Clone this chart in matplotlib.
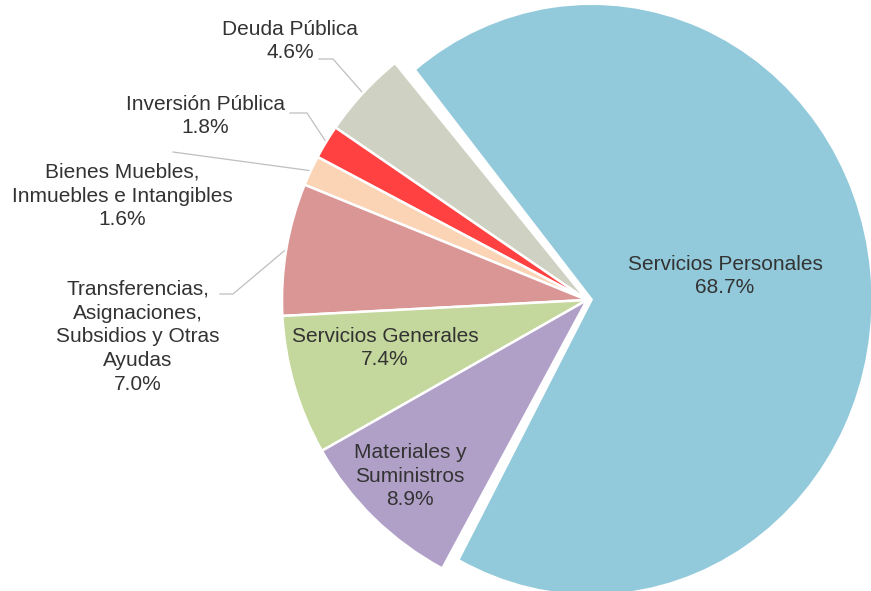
import matplotlib
matplotlib.use("Agg")
import matplotlib.pyplot as plt
from matplotlib.transforms import Affine2D
import numpy as np

# budget shares by chapter (%)
labels = ["Servicios Personales", "Deuda Pública", "Inversión Pública",
          "Bienes Muebles,\nInmuebles e Intangibles",
          "Transferencias,\nAsignaciones,\nSubsidios y Otras\nAyudas",
          "Servicios Generales", "Materiales y\nSuministros"]
shares = [68.7, 4.6, 1.8, 1.6, 7.0, 7.4, 8.9]
colors = ["#92CADB", "#CFD1C2", "#FF4141", "#FBD4B6", "#D99694", "#C4D79C", "#B0A0C8"]

# layout, in pixels of the 871x591 picture
W, H = 871, 591
CX, CY, S = 587, 300, 305          # pie centre and pixels per unit radius
label_px = [(725, 276), (290, 41), (205, 116), (122, 196), (138, 337), (385, 348), (410, 476)]
leader_px = [None, [(319, 59), (333, 59)], [(290, 113), (307, 113)], [(173, 152)],
             [(220, 294), (233, 294)], None, None]


def to_data(p):
    return ((p[0] - CX) / S, (CY - p[1]) / S)


fig = plt.figure(figsize=(W / 100, H / 100), dpi=100)
ax = fig.add_axes([0, 0, 1, 1])

start = 129 + sum(shares[1:]) * 3.6
wedges, _ = ax.pie(shares, colors=colors, startangle=start - 360, counterclock=True,
                   explode=[0.015, 0, 0, 0, 0, 0, 0],
                   wedgeprops=dict(edgecolor="white", linewidth=1.8))

# the big slice is drawn a bit narrower than tall in the original
big = wedges[0]
big.set_radius(0.97)
bx, by = big.center
big.set_transform(Affine2D().translate(-bx, -by).scale(0.95, 1).translate(bx, by) + ax.transData)

ax.set_aspect("auto")
ax.set_xlim(-CX / S, (W - CX) / S)
ax.set_ylim(-(H - CY) / S, CY / S)
ax.axis("off")

for w, lab, v, pos, lead in zip(wedges, labels, shares, label_px, leader_px):
    x, y = to_data(pos)
    ax.text(x, y, f"{lab}\n{v:.1f}%", ha="center", va="center", multialignment="center",
            fontsize=15, family="Liberation Sans", color="#333333", linespacing=1.32)
    if lead is not None:
        mid = np.deg2rad((w.theta1 + w.theta2) / 2)
        pts = [to_data(p) for p in lead]
        pts.append((w.center[0] + w.r * np.cos(mid), w.center[1] + w.r * np.sin(mid)))
        xs, ys = zip(*pts)
        ax.plot(xs, ys, color="#BFBFBF", linewidth=0.9, zorder=0.5)

fig.savefig("out.png", dpi=100, facecolor="white")
